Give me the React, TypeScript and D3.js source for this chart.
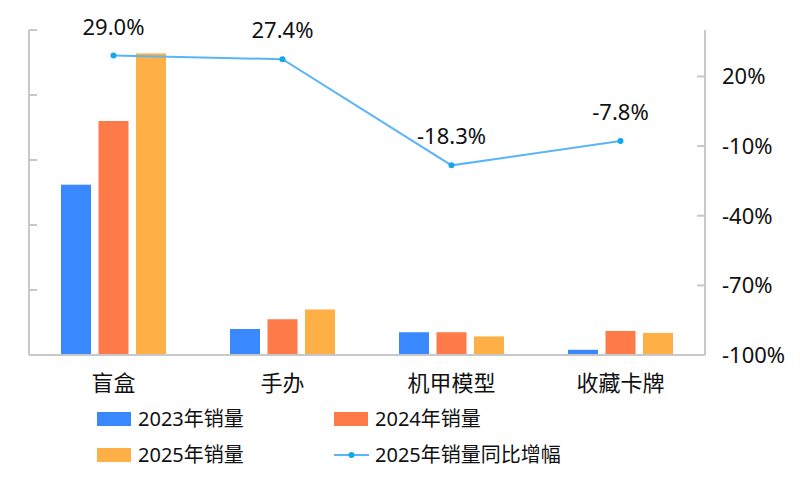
import React from "react";
import * as d3 from "d3";

const categories = ["盲盒", "手办", "机甲模型", "收藏卡牌"];
const seriesNames = ["2023年销量", "2024年销量", "2025年销量"];
const sales2023 = [262, 40, 35, 8];
const sales2024 = [360, 55, 35, 37];
const sales2025 = [464, 70, 28.6, 34];
const growth2025 = [29.0, 27.4, -18.3, -7.8];
const leftTicks = [0, 100, 200, 300, 400, 500];
const rightTicks = [-100, -70, -40, -10, 20];
const lineName = "2025年销量同比增幅";

const colors = ["#3a88fd", "#fe7a48", "#feb046"];
const lineColor = "#59b5f6";
const dotColor = "#14a8ea";
const axisColor = "#c8c8c8";
const font = "'Noto Sans', 'Noto Sans CJK SC', sans-serif";

export default function App() {
  const W = 800, H = 491;
  const left = 29, right = 705, top = 30, bottom = 355;
  const seriesValues = [sales2023, sales2024, sales2025];

  const x = d3.scaleBand<string>().domain(categories).range([left, right]).padding(0);
  const inner = d3.scaleBand<number>().domain([0, 1, 2]).range([-52.5, 52.5]).paddingInner(0.2).paddingOuter(0);
  const yL = d3.scaleLinear().domain([0, 500]).range([bottom, top]);
  const yR = d3.scaleLinear().domain([-100, 40]).range([bottom, top]);

  const cx = (c: string) => (x(c) as number) + x.bandwidth() / 2;
  const line = d3.line<number>().x((_, i) => cx(categories[i])).y((d) => yR(d));

  return (
    <svg width={W} height={H} style={{ position: "absolute", left: 0, top: 0 }} fontFamily={font}>
      {/* bars */}
      {seriesValues.map((vals, s) =>
        vals.map((v, i) => (
          <rect
            key={`b${s}-${i}`}
            x={cx(categories[i]) + (inner(s) as number)}
            y={yL(v)}
            width={inner.bandwidth()}
            height={yL(0) - yL(v)}
            fill={colors[s]}
          />
        ))
      )}
      {/* axes */}
      <line x1={left} x2={left} y1={top} y2={bottom} stroke={axisColor} strokeWidth={2} />
      {leftTicks.map((t) => (
        <line key={`lt${t}`} x1={left} x2={left + 8} y1={yL(t)} y2={yL(t)} stroke={axisColor} strokeWidth={2} />
      ))}
      <line x1={right} x2={right} y1={top} y2={bottom} stroke={axisColor} strokeWidth={2} />
      {rightTicks.map((t) => (
        <g key={`rt${t}`}>
          <line x1={right - 8} x2={right} y1={yR(t)} y2={yR(t)} stroke={axisColor} strokeWidth={2} />
          <text x={right + 17} y={yR(t)} dy="0.36em" fontSize={22} fill="#111">
            {`${t}%`}
          </text>
        </g>
      ))}
      <line x1={left} x2={right} y1={bottom} y2={bottom} stroke={axisColor} strokeWidth={2} />
      {categories.map((c) => (
        <text key={c} x={cx(c)} y={391} textAnchor="middle" fontSize={22} fill="#111">
          {c}
        </text>
      ))}
      {/* line */}
      <path d={line(growth2025) as string} fill="none" stroke={lineColor} strokeWidth={2} />
      {growth2025.map((g, i) => (
        <g key={`p${i}`}>
          <circle cx={cx(categories[i])} cy={yR(g)} r={3} fill={dotColor} />
          <text x={cx(categories[i])} y={yR(g) - 21} textAnchor="middle" fontSize={22} fill="#111">
            {`${g.toFixed(1)}%`}
          </text>
        </g>
      ))}
      {/* legend */}
      {seriesNames.map((n, s) => {
        const lx = s % 2 === 0 ? 97 : 334;
        const ly = s < 2 ? 419 : 455;
        return (
          <g key={n}>
            <rect x={lx} y={ly - 7} width={34} height={14} fill={colors[s]} />
            <text x={lx + 41} y={ly} dy="0.36em" fontSize={20} fill="#111">
              {n}
            </text>
          </g>
        );
      })}
      <g>
        <line x1={334} x2={369} y1={455} y2={455} stroke={lineColor} strokeWidth={2} />
        <circle cx={351.5} cy={455} r={3} fill={dotColor} />
        <text x={375} y={455} dy="0.36em" fontSize={20} fill="#111">
          {lineName}
        </text>
      </g>
    </svg>
  );
}
